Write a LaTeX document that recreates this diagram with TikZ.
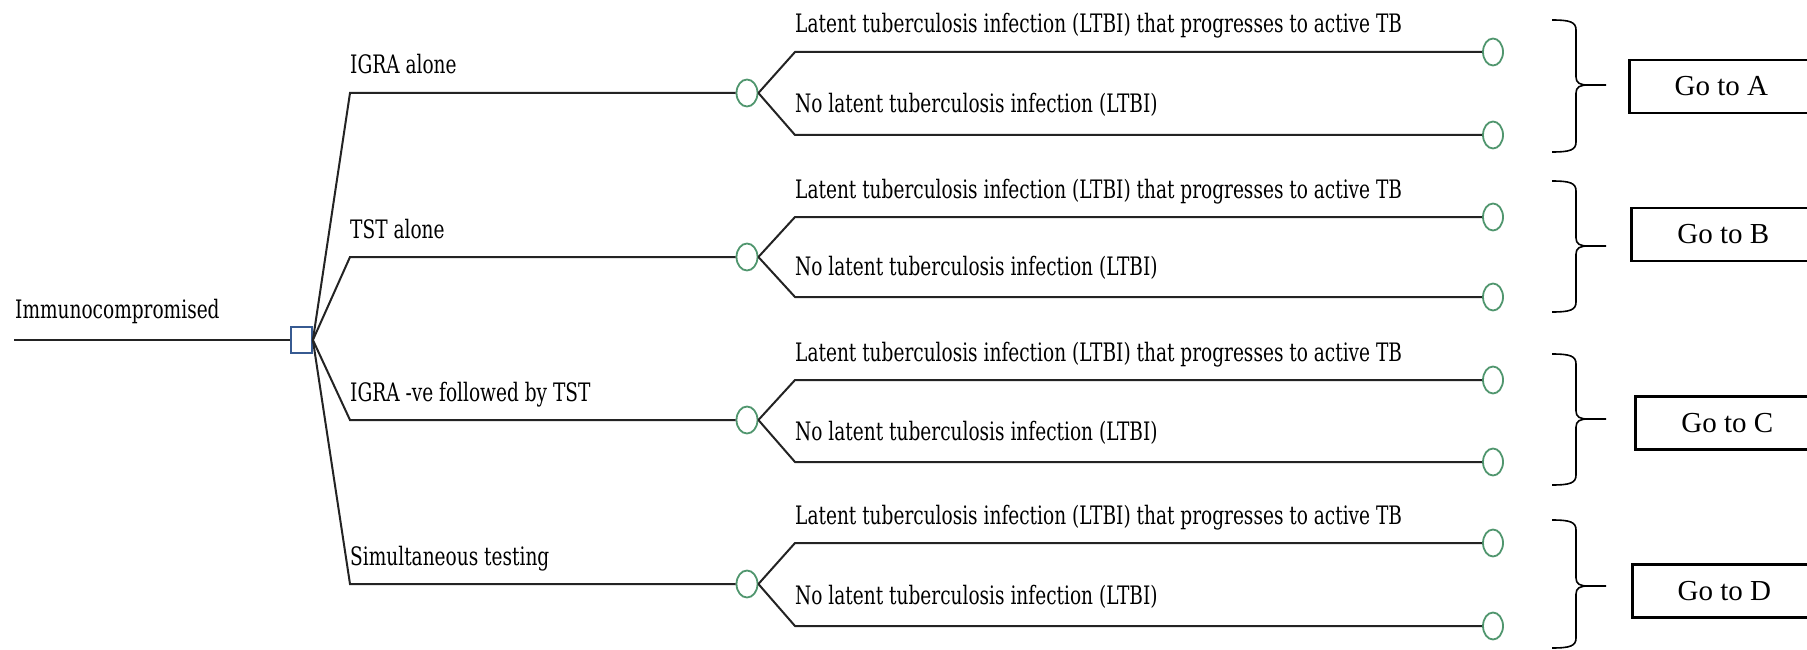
\documentclass[tikz,border=0pt]{standalone}
\usepackage{fontspec}
\newfontfamily\treefont[FakeStretch=0.73]{DejaVu Serif}
\newfontfamily\gofont{Liberation Serif}
\usetikzlibrary{shapes.geometric}
\definecolor{treeline}{RGB}{35,35,35}
\definecolor{decblue}{RGB}{55,90,145}
\definecolor{chgreen}{RGB}{80,150,110}
\tikzset{
  treeedge/.style={draw=treeline, line width=2pt},
  lbl/.style={anchor=base west, inner sep=0pt, text=black, font=\treefont\fontsize{25.4}{30}\selectfont},
  decision/.style={draw=decblue, line width=1.8pt, rectangle, minimum width=21pt, minimum height=26pt, inner sep=0pt, fill=white},
  chance/.style={draw=chgreen, line width=1.8pt, ellipse, minimum width=21pt, minimum height=27pt, inner sep=0pt, fill=white},
  terminal/.style={draw=chgreen, line width=1.8pt, ellipse, minimum width=20pt, minimum height=27pt, inner sep=0pt, fill=white},
  gobox/.style={draw=black, line width=2.6pt, rectangle, minimum width=184pt, minimum height=53pt, anchor=west, inner sep=0pt, font=\gofont\fontsize{29}{34}\selectfont},
  bracestyle/.style={draw=black, line width=1.6pt}
}
\begin{document}
\begin{tikzpicture}[x=1pt,y=-1pt]
\useasboundingbox (0,0) rectangle (1807,650);
\clip (0,0) rectangle (1807,650);
% root
\coordinate (root) at (14,340);
\node[decision] (dec) at (301.5,340) {};
\node[lbl] (rootlbl) at (15,318) {Immunocompromised};
\draw[treeedge] (root) -- (dec.west);
% branches
\foreach \i/\y/\uy/\ly/\lab in {1/93/52/135/IGRA alone, 2/257/217/297/TST alone, 3/420/380/462/IGRA -ve followed by TST, 4/584/543/626/Simultaneous testing}{
  \coordinate (b\i) at (350,\y);
  \node[chance] (c\i) at (747,\y) {};
  \node[lbl] (bl\i) at (350,\y-19) {\lab};
  \draw[treeedge] (dec.east) -- (b\i) -- (c\i.west);
  \coordinate (su\i) at (795,\uy);
  \coordinate (sl\i) at (795,\ly);
  \node[terminal] (tu\i) at (1493,\uy) {};
  \node[terminal] (tl\i) at (1493,\ly) {};
  \draw[treeedge] (c\i.east) -- (su\i) -- (tu\i.west);
  \draw[treeedge] (c\i.east) -- (sl\i) -- (tl\i.west);
  \node[lbl] (ul\i) at (795,\uy-19) {Latent tuberculosis infection (LTBI) that progresses to active TB};
  \node[lbl] (ll\i) at (795,\ly-22) {No latent tuberculosis infection (LTBI)};
}
% braces and boxes
\foreach \t/\m/\b/\bx/\by/\L in {20/85/152/1628/86.5/A, 181/246/312/1630/234.5/B, 354/419/485/1634/423/C, 520/586/648/1631/591/D}{
  \draw[bracestyle] (1552,\t) .. controls (1570,\t) and (1576,\t+2) .. (1576,\t+10) -- (1576,\m-8) .. controls (1576,\m-2) and (1580,\m) .. (1588,\m) -- (1606,\m);
  \draw[bracestyle] (1588,\m) .. controls (1580,\m) and (1576,\m+2) .. (1576,\m+8) -- (1576,\b-10) .. controls (1576,\b-2) and (1570,\b) .. (1552,\b);
  \node[gobox] (go\L) at (\bx,\by) {Go to \L};
}
\end{tikzpicture}
\end{document}
